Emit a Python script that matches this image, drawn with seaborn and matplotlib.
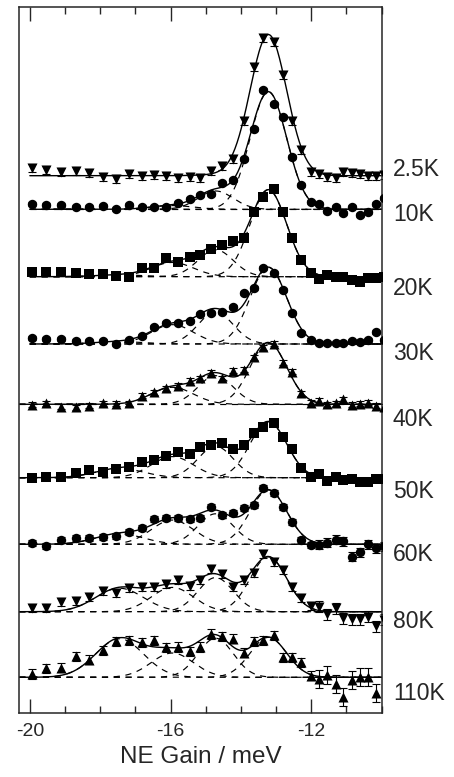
import numpy as np
import matplotlib
matplotlib.use("Agg")
import matplotlib.pyplot as plt
import matplotlib.transforms as mtransforms
from matplotlib.ticker import MultipleLocator
import seaborn as sns

# energy of every data channel (meV), shared by all temperatures
energy = [-19.95, -19.53, -19.11, -18.70, -18.31, -17.93, -17.56, -17.17, -16.82,
          -16.46, -16.12, -15.79, -15.46, -15.15, -14.84, -14.54, -14.23, -13.92,
          -13.64, -13.37, -13.07, -12.80, -12.54, -12.28, -12.02, -11.78, -11.54,
          -11.31, -11.09, -10.85, -10.63, -10.40, -10.17, -9.94]

temps = ["2.5K", "10K", "20K", "30K", "40K", "50K", "60K", "80K", "110K"]
markers = ["v", "o", "s", "o", "^", "s", "o", "v", "^"]

# vertical shift of each spectrum and where its label sits (arb. units)
offsets = [537.6, 504.0, 436.6, 369.3, 309.0, 235.6, 169.0, 101.6, 36.0]
label_y = [543.3, 498.3, 425.0, 360.0, 293.3, 221.6, 158.3, 91.6, 20.0]

nan = float("nan")
int_2p5K = [8.0, 5.7, 3.3, 5.0, 2.7, -1.0, -3.3, 1.7, 0.0, 0.7, 0.0, -2.0, -1.7, -2.0, 5.0, 10.0, 16.3,
            55.0, 109.0, 137.3, 134.0, 100.7, 54.7, 25.7, 4.0, 1.7, -1.0, -2.7, 4.0, 2.3, 1.7, 0.0, 0.0, 0.5]
int_10K = [5.5, 4.5, 4.5, 2.3, 2.0, 3.5, 0.3, 4.3, 2.0, 2.0, 2.0, 6.5, 10.0, 14.5, 15.5, 26.7, 29.3,
           50.0, 80.0, 119.3, 105.0, 92.7, 52.7, 24.0, 7.0, 5.5, -1.5, 2.6, -4.0, 2.0, -5.5, -3.0, 5.3, 11.0]
int_20K = [4.3, 4.3, 4.3, 4.0, 2.4, 2.7, 1.0, 0.0, 9.0, 8.4, 18.4, 15.0, 19.4, 21.7, 27.4, 31.7, 35.7,
           38.4, 64.4, 79.4, 87.4, 64.4, 39.0, 16.7, 3.4, -2.3, 1.7, -0.6, 0.0, -3.3, -5.6, -1.6, -1.0, 0.0]
int_30K = [6.3, 4.7, 5.0, 3.0, 3.0, 3.0, -0.3, 4.0, 8.3, 17.3, 20.7, 20.7, 23.3, 30.0, 31.3, 32.3, 37.3,
           50.7, 55.7, 76.3, 70.7, 54.0, 31.3, 10.7, 4.0, 0.7, 0.7, 1.3, 1.3, 3.0, 1.7, 4.0, 12.0, 4.0]
int_40K = [-0.7, 1.0, -2.4, -3.0, -1.7, 1.0, 0.3, 1.0, 8.6, 12.0, 16.0, 18.6, 23.3, 26.0, 31.7, 26.0, 33.3,
           34.3, 47.0, 57.0, 60.3, 41.7, 32.7, 11.0, 1.7, 3.7, 0.0, 1.0, 5.0, -0.7, 0.3, 1.7, -1.7, -2.4]
int_50K = [0.0, 0.4, 1.0, 4.6, 7.3, 5.5, 8.4, 10.7, 15.2, 18.0, 21.3, 26.0, 24.0, 30.4, 33.0, 34.4, 29.0,
           33.0, 45.0, 50.2, 54.4, 40.5, 28.4, 9.4, 1.0, 3.7, -3.0, 0.4, -2.6, -1.0, -4.0, -4.0, -1.5, -1.0]
int_60K = [1.6, -1.7, 4.3, 6.6, 6.0, 7.6, 8.3, 12.0, 16.0, 25.0, 26.6, 26.0, 25.0, 26.6, 37.6, 29.3, 31.6,
           36.0, 39.3, 56.0, 51.6, 37.6, 22.6, 4.0, -1.2, -0.4, 1.5, 4.3, 3.2, -12.4, -8.0, 0.0, -4.0, -2.0]
int_80K = [3.4, 3.4, 9.5, 11.0, 15.0, 21.0, 18.7, 23.4, 24.7, 24.4, 27.2, 31.3, 25.7, 31.7, 42.5, 37.2, 24.4,
           31.7, 39.0, 57.5, 50.0, 41.3, 24.4, 13.4, 5.3, 4.7, -2.8, 3.4, -6.6, -7.5, -7.5, -5.0, -14.6, -8.0]
int_110K = [3.3, 9.0, 9.6, 21.0, 17.5, 27.0, 36.0, 37.0, 35.0, 37.0, 30.0, 30.3, 26.0, 30.3, 43.3, 41.0, 38.5,
            24.6, 36.0, 37.0, 42.0, 20.0, 20.0, 14.8, 1.5, -2.0, 2.5, -7.0, -19.4, -2.7, 0.7, 0.7, -16.0, nan]
intensities = [int_2p5K, int_10K, int_20K, int_30K, int_40K, int_50K, int_60K, int_80K, int_110K]

# error bars below / above -12 meV
err_low = [4.0, 2.0, 2.0, 2.0, 2.5, 2.5, 3.0, 4.0, 4.7]
err_high = [4.0, 2.0, 2.0, 2.0, 2.5, 2.5, 4.5, 5.5, 9.0]

# gaussian components of the fit
peak_centres = [-13.22, -14.72, -15.95, -17.45]
peak_widths = [0.52, 0.5, 0.6, 0.68]
n_peaks = [2, 3, 4, 4, 4, 4, 4, 4, 4]
line_start = [-20.0, -20.0, -20.0, -20.0, -20.3, -20.3, -20.3, -20.3, -20.3]


def gauss(x, c, w):
    return np.exp(-(x - c) ** 2 / (2 * w ** 2))


def fit_amplitudes(x, y, k):
    # least squares with fixed centres / widths, dropping negative peaks
    ok = ~np.isnan(y)
    active = list(range(k))
    while True:
        A = np.column_stack([gauss(x[ok], peak_centres[i], peak_widths[i]) for i in active])
        amp = np.linalg.lstsq(A, y[ok], rcond=None)[0]
        if (amp >= 0).all() or len(active) == 1:
            break
        active.pop(int(np.argmin(amp)))
    out = np.zeros(len(peak_centres))
    out[active] = amp
    return out


sns.set_style("ticks")
plt.rcParams["font.family"] = ["Liberation Sans", "DejaVu Sans"]
plt.rcParams["axes.unicode_minus"] = False

fig = plt.figure(figsize=(4.54, 7.77), dpi=100)
ax = fig.add_axes([0.0425, 0.0820, 0.7982, 0.9086])

x = np.array(energy)
for i, temp in enumerate(temps):
    y = np.array(intensities[i])
    off = offsets[i]
    amps = fit_amplitudes(x, y, n_peaks[i])
    xx = np.linspace(line_start[i], -10.0, 500)

    # individual components (dashed)
    if i > 0:
        for a, c, w in zip(amps, peak_centres, peak_widths):
            sns.lineplot(x=xx, y=off + a * gauss(xx, c, w), ax=ax, color="black",
                         lw=0.85, linestyle=(0, (5.2, 4.8)), estimator=None, sort=False)
    total = sum(a * gauss(xx, c, w) for a, c, w in zip(amps, peak_centres, peak_widths))
    sns.lineplot(x=xx, y=off + total, ax=ax, color="black", lw=1.0,
                 estimator=None, sort=False)

    err = np.where(x < -12, err_low[i], err_high[i])
    ax.errorbar(x, off + y, yerr=err, fmt="none", ecolor="black", elinewidth=0.8,
                capsize=2.8, capthick=0.8, zorder=2)
    size = {"o": 46, "s": 50, "v": 52, "^": 52}[markers[i]]
    sns.scatterplot(x=x, y=off + y, ax=ax, marker=markers[i], s=size, color="black",
                    edgecolor="black", linewidth=0, zorder=3)

    ax.text(1.031, label_y[i], temp, fontsize=16.5, va="center", ha="left",
            transform=mtransforms.blended_transform_factory(ax.transAxes, ax.transData))

ax.set_xlim(-20.3, -10.0)
ax.set_ylim(0, 706)
ax.set_xticks([-20, -16, -12])
ax.set_xticklabels(["-20", "-16", "-12"])
ax.xaxis.set_minor_locator(MultipleLocator(1))
ax.set_yticks([])
ax.tick_params(axis="x", which="both", direction="in", top=True, bottom=True,
               width=1.0, labelsize=14, pad=7)
ax.tick_params(axis="x", which="major", length=10)
ax.tick_params(axis="x", which="minor", length=4.7)
for sp in ax.spines.values():
    sp.set_linewidth(1.1)
    sp.set_visible(True)
ax.set_xlabel("NE Gain / meV", fontsize=17.5, labelpad=4)
ax.set_ylabel("")

fig.savefig("out.png", dpi=100)
